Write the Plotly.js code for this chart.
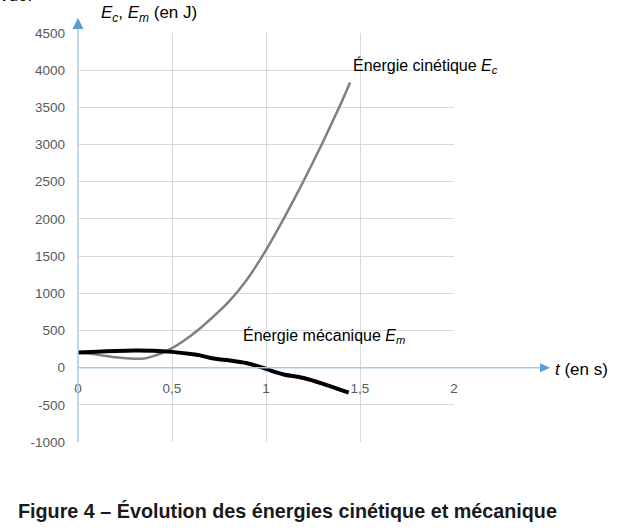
<!DOCTYPE html>
<html>
<head>
<meta charset="utf-8">
<script src="https://cdn.plot.ly/plotly-3.0.1.min.js"></script>
<style>html,body{margin:0;padding:0;background:#fff;}#chart{width:640px;height:530px;}</style>
</head>
<body>
<div id="chart"></div>
<script>
// Data
const tEc = [0, 0.1, 0.2, 0.3, 0.35, 0.4, 0.45, 0.5, 0.6, 0.65, 0.7, 0.8, 0.9, 1.0, 1.1, 1.2, 1.3, 1.4, 1.447];
const Ec  = [205, 175, 140, 120, 122, 155, 200, 262, 430, 530, 640, 880, 1190, 1580, 2030, 2510, 3020, 3560, 3835];
const tEm = [0, 0.1, 0.2, 0.3, 0.4, 0.5, 0.6, 0.65, 0.7, 0.75, 0.8, 0.9, 1.0, 1.05, 1.1, 1.15, 1.2, 1.3, 1.44];
const Em  = [205, 215, 225, 231, 228, 212, 182, 165, 132, 112, 98, 58, -15, -60, -95, -115, -140, -215, -337];

const xTickVals = [0, 0.5, 1, 1.5, 2];
const xTickText = ['0', '0,5', '1', '1,5', '2'];
const yTickVals = [-1000, -500, 0, 500, 1000, 1500, 2000, 2500, 3000, 3500, 4000, 4500];
const yTickText = ['-1000', '-500', '0', '500', '1000', '1500', '2000', '2500', '3000', '3500', '4000', '4500'];

const FONT = 'Liberation Sans, Arial, sans-serif';
const yMin = -1000, yMax = 4500;
const zeroPaper = (0 - yMin) / (yMax - yMin);
const plotW = 376, plotH = 409;
const axisLine = '#a9c9ea', arrowCol = '#5b9bd5';

const traces = [
  {x: tEc, y: Ec, type: 'scatter', mode: 'lines', line: {color: '#808080', width: 2.5, shape: 'spline', smoothing: 0.6}, hoverinfo: 'skip'},
  {x: tEm, y: Em, type: 'scatter', mode: 'lines', line: {color: '#000000', width: 4, shape: 'spline', smoothing: 0.6}, hoverinfo: 'skip'}
];

const xTip = (550 - 78) / plotW, xBase = (540 - 78) / plotW, xHalf = 4.5 / plotH;
const yTip = (442 - 18) / plotH, yBase = (442 - 29) / plotH, yHalf = 5.5 / plotW;

const layout = {
  width: 640, height: 530,
  margin: {l: 78, r: 186, t: 33, b: 88},
  paper_bgcolor: '#ffffff', plot_bgcolor: '#ffffff',
  showlegend: false,
  font: {family: FONT, color: '#000'},
  xaxis: {
    range: [0, 2], tickmode: 'array', tickvals: xTickVals, ticktext: xTickText,
    showgrid: true, gridcolor: '#d9d9d9', gridwidth: 1, zeroline: false, showline: false,
    ticks: '', anchor: 'free', position: zeroPaper, ticklabelstandoff: 11,
    tickfont: {family: FONT, size: 13.5, color: '#595959'}, fixedrange: true
  },
  yaxis: {
    range: [yMin, yMax], tickmode: 'array', tickvals: yTickVals, ticktext: yTickText,
    showgrid: true, gridcolor: '#d9d9d9', gridwidth: 1, zeroline: false, showline: false,
    ticks: '', ticklabelstandoff: 12,
    tickfont: {family: FONT, size: 13.5, color: '#595959'}, fixedrange: true
  },
  shapes: [
    {type: 'line', xref: 'paper', yref: 'paper', x0: 0, x1: 0, y0: 0, y1: yBase, line: {color: axisLine, width: 1.5}},
    {type: 'path', xref: 'paper', yref: 'paper', path: `M ${-yHalf} ${yBase} L ${yHalf} ${yBase} L 0 ${yTip} Z`, fillcolor: arrowCol, line: {width: 0}},
    {type: 'line', xref: 'paper', yref: 'paper', x0: 0, x1: xBase, y0: zeroPaper, y1: zeroPaper, line: {color: axisLine, width: 1.5}},
    {type: 'path', xref: 'paper', yref: 'paper', path: `M ${xBase} ${zeroPaper - xHalf} L ${xBase} ${zeroPaper + xHalf} L ${xTip} ${zeroPaper} Z`, fillcolor: arrowCol, line: {width: 0}}
  ],
  annotations: [
    {text: '<i>E<sub>c</sub></i>, <i>E<sub>m</sub></i> (en J)', xref: 'paper', yref: 'paper', x: (99 - 78) / plotW, y: (442 - 14) / plotH, xanchor: 'left', yanchor: 'middle', showarrow: false, font: {size: 17, color: '#000'}},
    {text: '<i>t</i> (en s)', xref: 'paper', yref: 'paper', x: (553 - 78) / plotW, y: (442 - 369) / plotH, xanchor: 'left', yanchor: 'middle', showarrow: false, font: {size: 17, color: '#000'}},
    {text: 'Énergie cinétique <i>E<sub>c</sub></i>', xref: 'paper', yref: 'paper', x: (351 - 78) / plotW, y: (442 - 66) / plotH, xanchor: 'left', yanchor: 'middle', showarrow: false, font: {size: 16, color: '#000'}},
    {text: 'Énergie mécanique <i>E<sub>m</sub></i>', xref: 'paper', yref: 'paper', x: (241 - 78) / plotW, y: (442 - 336) / plotH, xanchor: 'left', yanchor: 'middle', showarrow: false, font: {size: 16, color: '#000'}},
    {text: '<b>Figure 4 – Évolution des énergies cinétique et mécanique</b>', xref: 'paper', yref: 'paper', x: (16 - 78) / plotW, y: (442 - 511) / plotH, xanchor: 'left', yanchor: 'middle', showarrow: false, font: {size: 19.75, color: '#1a1a1a'}},
    {text: 'vue.', xref: 'paper', yref: 'paper', x: (-2 - 78) / plotW, y: (442 + 4) / plotH, xanchor: 'left', yanchor: 'middle', showarrow: false, font: {size: 17, color: '#000'}}
  ]
};

Plotly.newPlot('chart', traces, layout, {displayModeBar: false, staticPlot: true});
</script>
</body>
</html>
